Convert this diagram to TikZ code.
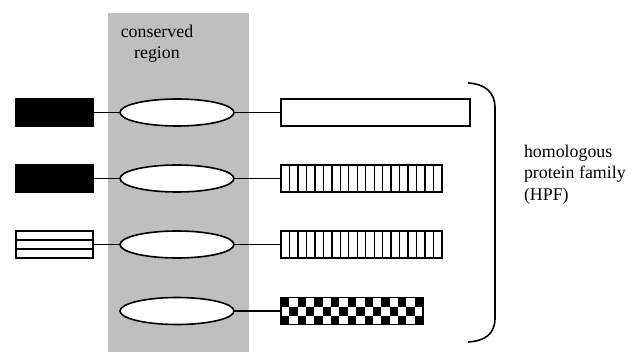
\documentclass[tikz,border=0pt]{standalone}
\usepackage{fontspec}
\setmainfont{Liberation Serif}
\usetikzlibrary{calc,shapes.geometric}

\begin{document}
\begin{tikzpicture}[x=0.75pt,y=0.75pt,yscale=-1,
  every node/.style={inner sep=0pt,outer sep=0pt},
  headbox/.style={draw,fill=black,line width=1.1pt,minimum width=57.75pt,minimum height=21pt},
  stripebox/.style={draw,fill=white,line width=1.4pt,minimum width=57.75pt,minimum height=20.25pt},
  core/.style={draw,ellipse,fill=white,line width=1.2pt,minimum width=85.5pt,minimum height=20.25pt},
  tailbox/.style={draw,fill=white,line width=1.2pt,minimum height=20.25pt,anchor=west},
  link/.style={line width=0.9pt},
  hpftext/.style={font=\fontsize{13.4}{16}\selectfont}
]

\useasboundingbox (0,0) rectangle (634,352);

%Shape: Rectangle (conserved region)
\fill [black!25] (108,13) rectangle (249,352);

% Text Node
\node (cons) [hpftext,anchor=north,align=center] at (157,25) {conserved\\region};

%Shape: Rectangle (left parts)
\node (l1) [headbox] at (54.5,112.5) {};
\node (l2) [headbox] at (54.5,178.5) {};
\node (l3) [stripebox] at (54.5,244.5) {};
\foreach \f in {1,2}
  \draw [line width=1.2pt] ($(l3.north west)!\f/3!(l3.south west)$) -- ($(l3.north east)!\f/3!(l3.south east)$);

%Shape: Ellipse
\node (e1) [core] at (177,112.5) {};
\node (e2) [core] at (177,178.5) {};
\node (e3) [core] at (177,244.5) {};
\node (e4) [core] at (177,311) {};

%Shape: Rectangle (right parts)
\node (r1) [tailbox,minimum width=141.75pt] at (281,112.5) {};
\node (r2) [tailbox,minimum width=120.75pt] at (281,178.5) {};
\node (r3) [tailbox,minimum width=120.75pt] at (281,244.5) {};
\node (r4) [tailbox,minimum width=106.5pt] at (281,311) {};

% stripes
\foreach \b in {r2,r3}{
  \foreach \i in {1,...,18}
    \draw [line width=1pt] ($(\b.north west)!\i/19!(\b.north east)$) -- ($(\b.south west)!\i/19!(\b.south east)$);
}

% checkers
\foreach \c in {0,...,16}{
  \foreach \r in {0,1,2}{
    \pgfmathtruncatemacro\cell{mod(\c+\r,2)}
    \ifnum\cell=0
      \fill ($(r4.north west)+(\c*8.353,\r*9)$) rectangle ++(8.353,9);
    \fi
  }
}
\draw [line width=1.2pt] (r4.north west) rectangle (r4.south east);

%Straight Lines
\draw [link] (l1) -- (e1);
\draw [link] (l2) -- (e2);
\draw [link] (l3) -- (e3);
\draw [link] (e1) -- (r1);
\draw [link] (e2) -- (r2);
\draw [link] (e3) -- (r3);
\draw [link] (e4) -- (r4);

%Shape: Brace
\draw [line width=1.2pt] (468,83) .. controls (485,84) and (495,92) .. (495,108) -- (495,318) .. controls (495,334) and (485,341) .. (468,342);

% Text Node
\node (hpf) [hpftext,anchor=north west,align=left] at (524,145) {homologous\\protein family\\(HPF)};
\end{tikzpicture}
\end{document}
